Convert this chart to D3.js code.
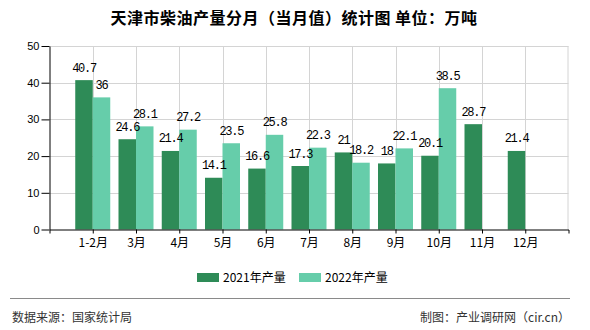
<!DOCTYPE html>
<html>
<head>
<meta charset="utf-8">
<script src="https://cdn.jsdelivr.net/npm/d3@7/dist/d3.min.js"></script>
<style>
  html, body { margin: 0; padding: 0; background: #fff; }
  svg { display: block; }
</style>
</head>
<body>
<svg id="chart" width="590" height="330"></svg>
<script>
// Monthly diesel output, Tianjin (10k tonnes)
const categories = ["1-2月", "3月", "4月", "5月", "6月", "7月", "8月", "9月", "10月", "11月", "12月"];
const values2021 = [40.7, 24.6, 21.4, 14.1, 16.6, 17.3, 21, 18, 20.1, 28.7, 21.4];
const values2022 = [36, 28.1, 27.2, 23.5, 25.8, 22.3, 18.2, 22.1, 38.5, null, null];
const seriesNames = ["2021年产量", "2022年产量"];
const yTicks = [0, 10, 20, 30, 40, 50];

const colors = ["#2e8b57", "#66cdaa"];
const cjk = "'Noto Sans CJK SC', 'DejaVu Sans', sans-serif";
const mono = "'Liberation Mono', 'DejaVu Sans Mono', monospace";

const svg = d3.select("#chart");
const plotLeft = 49.5, plotRight = 568.5, plotTop = 46, plotBottom = 229.5;
const barW = 17.5;

const x = d3.scalePoint().domain(categories).range([plotLeft, plotRight]).padding(1);
const y = d3.scaleLinear().domain([0, 50]).range([plotBottom, plotTop]);

// grid
const grid = svg.append("g").attr("stroke", "#d4d4d4").attr("stroke-width", 1);
grid.selectAll("line.h").data(yTicks.filter(d => d > 0)).join("line")
  .attr("x1", plotLeft).attr("x2", plotRight)
  .attr("y1", d => Math.round(y(d)) + 0.5).attr("y2", d => Math.round(y(d)) + 0.5);
grid.selectAll("line.v").data(categories).join("line")
  .attr("x1", d => Math.round(x(d)) + 0.5).attr("x2", d => Math.round(x(d)) + 0.5)
  .attr("y1", plotTop).attr("y2", plotBottom);
grid.append("line").attr("x1", plotRight - 0.5).attr("x2", plotRight - 0.5).attr("y1", plotTop).attr("y2", plotBottom);

// bars first, then value labels on top of every bar
const series = [values2021, values2022];
const barLayer = svg.append("g");
const labelLayer = svg.append("g");
series.forEach((vals, si) => {
  const data = categories.map((c, i) => ({ c, v: vals[i] })).filter(d => d.v != null);
  const bx = d => x(d.c) + (si === 0 ? -barW : 0);
  barLayer.append("g").selectAll("rect").data(data).join("rect")
    .attr("x", bx).attr("width", barW)
    .attr("y", d => y(d.v)).attr("height", d => y(0) - y(d.v))
    .attr("fill", colors[si]);
  labelLayer.append("g").selectAll("text").data(data).join("text")
    .attr("x", d => bx(d) + barW / 2)
    .attr("y", d => y(d.v) - 8.5)
    .attr("text-anchor", "middle")
    .attr("font-family", mono).attr("font-size", 12).attr("letter-spacing", -1.3)
    .attr("fill", "#000")
    .text(d => d.v);
});

// axes
const xAxis = svg.append("g").attr("transform", `translate(0,${plotBottom})`)
  .call(d3.axisBottom(x).tickSize(4).tickSizeOuter(4).tickPadding(5));
xAxis.selectAll("text").attr("font-family", cjk).attr("font-size", 12).attr("fill", "#000");
xAxis.selectAll("path, line").attr("stroke", "#000");

const yAxis = svg.append("g").attr("transform", `translate(${plotLeft},0)`)
  .call(d3.axisLeft(y).tickValues(yTicks).tickSize(8).tickSizeOuter(0).tickPadding(2));
yAxis.selectAll("text").attr("font-family", "'Liberation Sans', Arial, sans-serif").attr("font-size", 11).attr("fill", "#000");
yAxis.selectAll("path, line").attr("stroke", "#000");

// title
svg.append("text").attr("x", 294).attr("y", 24).attr("text-anchor", "middle")
  .attr("font-family", cjk).attr("font-size", 16).attr("font-weight", "bold")
  .attr("letter-spacing", 0.5).attr("fill", "#000")
  .text("天津市柴油产量分月（当月值）统计图 单位：万吨");

// legend
const legendX = [197, 299];
seriesNames.forEach((name, i) => {
  svg.append("rect").attr("x", legendX[i]).attr("y", 273).attr("width", 22).attr("height", 9).attr("fill", colors[i]);
  svg.append("text").attr("x", legendX[i] + 26).attr("y", 282)
    .attr("font-family", cjk).attr("font-size", 12).attr("fill", "#000").text(name);
});

// footer
svg.append("line").attr("x1", 10).attr("x2", 570).attr("y1", 298.5).attr("y2", 298.5)
  .attr("stroke", "#8a8a8a").attr("stroke-width", 1.2);
svg.append("text").attr("x", 12).attr("y", 322)
  .attr("font-family", cjk).attr("font-size", 12).attr("fill", "#333").text("数据来源：国家统计局");
svg.append("text").attr("x", 570).attr("y", 322).attr("text-anchor", "end")
  .attr("font-family", cjk).attr("font-size", 12).attr("fill", "#333").text("制图：产业调研网（cir.cn）");
</script>
</body>
</html>
